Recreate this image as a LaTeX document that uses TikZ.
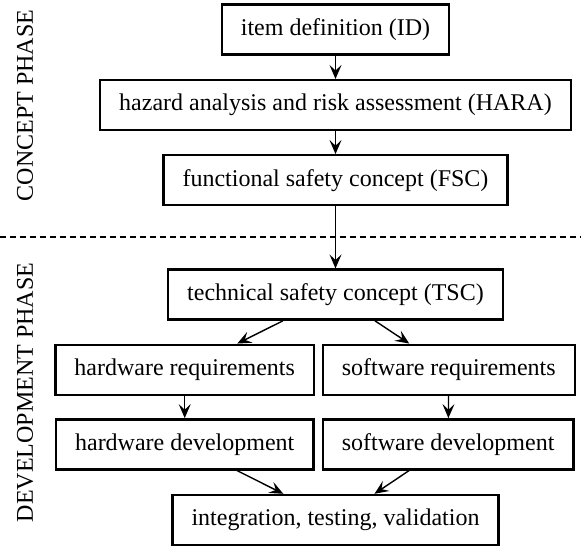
\documentclass[tikz,border=0pt]{standalone}
\usepackage{fontspec}
\setmainfont{Liberation Serif}
\usetikzlibrary{arrows.meta,calc}

\tikzset{
  stage/.style={draw,line width=1.2pt,minimum height=25pt,inner xsep=9.5pt,font=\fontsize{12}{14}\selectfont},
  phase/.style={rotate=90,font=\fontsize{12}{14}\selectfont},
  flow/.style={line width=0.7pt,-{Stealth[length=7pt,width=6pt,inset=2.8pt]}}
}

\begin{document}
\begin{tikzpicture}
\useasboundingbox (-5.896,0.518) rectangle (4.314,-9.077);
\path
(0,0)          node[stage] (id)   {item definition (ID)}
+(0,-1.33)     node[stage] (hara) {hazard analysis and risk assessment (HARA)}
+(0,-2.65)     node[stage] (fsc)  {functional safety concept (FSC)}
+(0,-4.66)     node[stage] (tsc)  {technical safety concept (TSC)}
+(-2.65,-5.98) node[stage] (hwr)  {hardware requirements}
+(1.99,-5.98)  node[stage] (swr)  {software requirements}
+(-2.65,-7.29) node[stage] (hwd)  {hardware development}
+(1.98,-7.29)  node[stage] (swd)  {software development}
+(0,-8.62)     node[stage] (ivv)  {integration, testing, validation}
+(-5.456,-1.336) node[phase] (cph) {CONCEPT PHASE}
+(-5.456,-6.379) node[phase] (dph) {DEVELOPMENT PHASE}
+(-5.896,-3.646) coordinate (cutl)
+(4.314,-3.646)  coordinate (cutr)
;
% phase border
\draw[line width=1pt,dash pattern=on 3pt off 2pt] (cutl) -- (cutr);
\draw[flow] (id) -- (hara);
\draw[flow] (hara) -- (fsc);
\draw[flow] (fsc) -- (tsc);
\draw[flow] (tsc) -- (hwr);
\draw[flow] (tsc) -- (swr);
\draw[flow] (hwr) -- (hwd);
\draw[flow] (swr) -- (swd);
\draw[flow] (hwd) -- (ivv);
\draw[flow] (swd) -- (ivv);
\end{tikzpicture}
\end{document}
